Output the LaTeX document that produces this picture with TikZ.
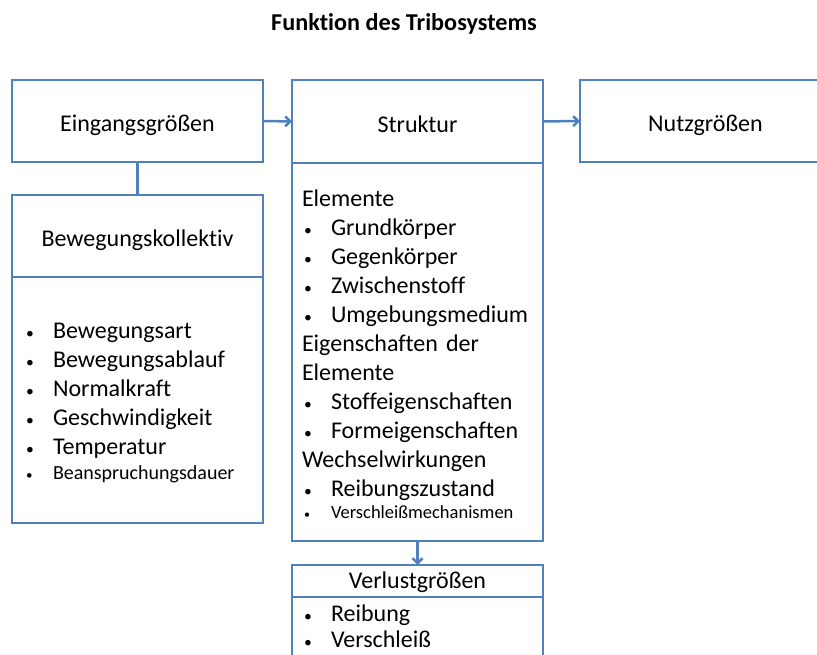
\documentclass[tikz,border=0pt]{standalone}
\usepackage{fontspec}
\setmainfont{Carlito}[Ligatures=NoCommon]
\usetikzlibrary{arrows.meta}

\definecolor{rahmen}{RGB}{79,129,189}
\newcommand{\itm}{\hspace*{2pt}\makebox[27pt][l]{\scalebox{0.65}{\textbullet}}}
\newcommand{\klein}[2]{{\fontsize{#1}{#1}\selectfont #2}}
\newcommand{\oben}{\rule{0pt}{21pt}}

\begin{document}
\begin{tikzpicture}[x=1pt, y=-1pt,
  kopf/.style={draw=rahmen, line width=2.5pt, outer sep=0pt, minimum width=251pt, minimum height=82pt, inner sep=0pt, text height=24pt, text depth=2pt, font=\fontsize{24}{29}\selectfont},
  rumpf/.style={draw=rahmen, line width=2.5pt, outer sep=0pt, anchor=north, align=left, font=\fontsize{24}{29}\selectfont},
  pfeil/.style={draw=rahmen, line width=2.5pt, -{Straight Barb[length=5pt,width=10pt]}}]
\useasboundingbox (0,0) rectangle (817,655);
\clip (0,0) rectangle (817,655);

\node[font=\fontsize{24.2}{26}\selectfont\bfseries] (titel) at (404,24) {Funktion des Tribosystems};

% Eingangsgroessen
\node[kopf] (ein) at (137.5,121) {Eingangsgrößen};
\node[kopf] (bew) at (137.5,236) {Bewegungskollektiv};
\node[rumpf, minimum height=246pt, text width=227pt, inner xsep=12pt] (bewliste) at (bew.south) {%
\oben\itm Bewegungsart\\
\itm Bewegungsablauf\\
\itm Normalkraft\\
\itm Geschwindigkeit\\
\itm Temperatur\\[-4pt]
\klein{20}{\itm Beanspruchungsdauer}};

% Struktur
\node[kopf, minimum height=83pt] (str) at (417.5,121.5) {Struktur};
\node[rumpf, minimum height=378pt, text width=231pt, inner xsep=10pt] (strliste) at (str.south) {%
\oben Elemente\\
\itm Grundkörper\\
\itm Gegenkörper\\
\itm Zwischenstoff\\
\itm Umgebungsmedium\\
Eigenschaften der\\
Elemente\\
\itm Stoffeigenschaften\\
\itm Formeigenschaften\\
Wechselwirkungen\\
\itm Reibungszustand\\[-7pt]
\klein{18.5}{\itm Verschleißmechanismen}};

% Nutz- und Verlustgroessen
\node[kopf] (nutz) at (705.5,121) {Nutzgrößen};
\node[kopf, minimum height=32pt, text height=16pt] (verl) at (417.5,581) {Verlustgrößen};
\node[rumpf, text width=231pt, inner xsep=10pt, inner ysep=8pt] (verlliste) at (verl.south) {%
\itm Reibung\\[-3pt]
\itm Verschleiß\\[10pt]};

\draw[draw=rahmen, line width=2.5pt] (ein) -- (bew);
\draw[pfeil] (ein) -- (str);
\draw[pfeil] (str) -- (nutz);
\draw[pfeil] (strliste) -- (verl);
\end{tikzpicture}
\end{document}
